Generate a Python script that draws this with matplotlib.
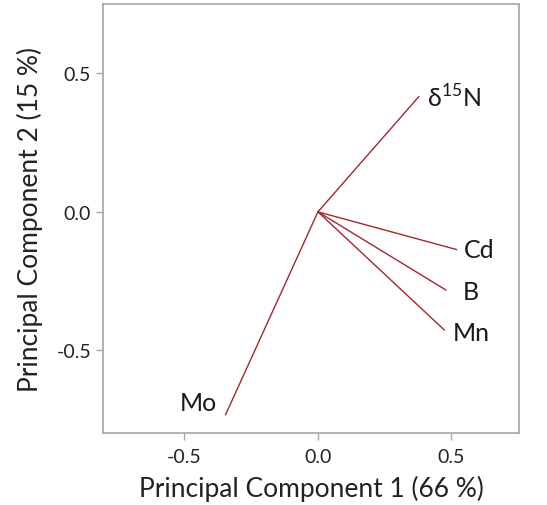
import matplotlib
matplotlib.use("Agg")
import matplotlib.pyplot as plt

variables = ["δ$^{15}$N", "Cd", "B", "Mn", "Mo"]
pc1 = [0.378, 0.519, 0.479, 0.473, -0.346]
pc2 = [0.416, -0.136, -0.282, -0.426, -0.732]

# label offsets in points (dx, dy) and alignment
offsets = [(6, 0, "left"), (5, 0, "left"), (12, -1, "left"), (6, -2, "left"), (-6, 9, "right")]

plt.rcParams["font.family"] = ["Lato", "DejaVu Sans"]
plt.rcParams["mathtext.fontset"] = "custom"
plt.rcParams["mathtext.rm"] = "Lato"
fig = plt.figure(figsize=(5.47, 5.06), dpi=100)
ax = fig.add_axes([103/547, 1-434/506, (519-103)/547, (434-5)/506])

color = "#a3282e"
for x, y, name, (dx, dy, ha) in zip(pc1, pc2, variables, offsets):
    ax.plot([0, x], [0, y], color=color, lw=1.0)
    ax.annotate(name, (x, y), xytext=(dx, dy), textcoords="offset points",
                ha=ha, va="center", fontsize=18, color="#1a1a1a")

ax.set_xlim(-0.805, 0.753)
ax.set_ylim(-0.798, 0.75)
ax.set_xticks([-0.5, 0.0, 0.5])
ax.set_yticks([-0.5, 0.0, 0.5])
ax.set_xticklabels(["-0.5", "0.0", "0.5"])
ax.set_yticklabels(["-0.5", "0.0", "0.5"])
for s in ax.spines.values():
    s.set_color("#a6a6a6")
    s.set_linewidth(1.2)
ax.tick_params(colors="#a6a6a6", labelcolor="#222222", labelsize=14, length=5, width=1)
ax.tick_params(axis="x", pad=6)
ax.set_xlabel("Principal Component 1 (66 %)", fontsize=19, color="#222222", labelpad=7)
ax.set_ylabel("Principal Component 2 (15 %)", fontsize=19, color="#222222", labelpad=10)

fig.savefig("out.png", dpi=100)
